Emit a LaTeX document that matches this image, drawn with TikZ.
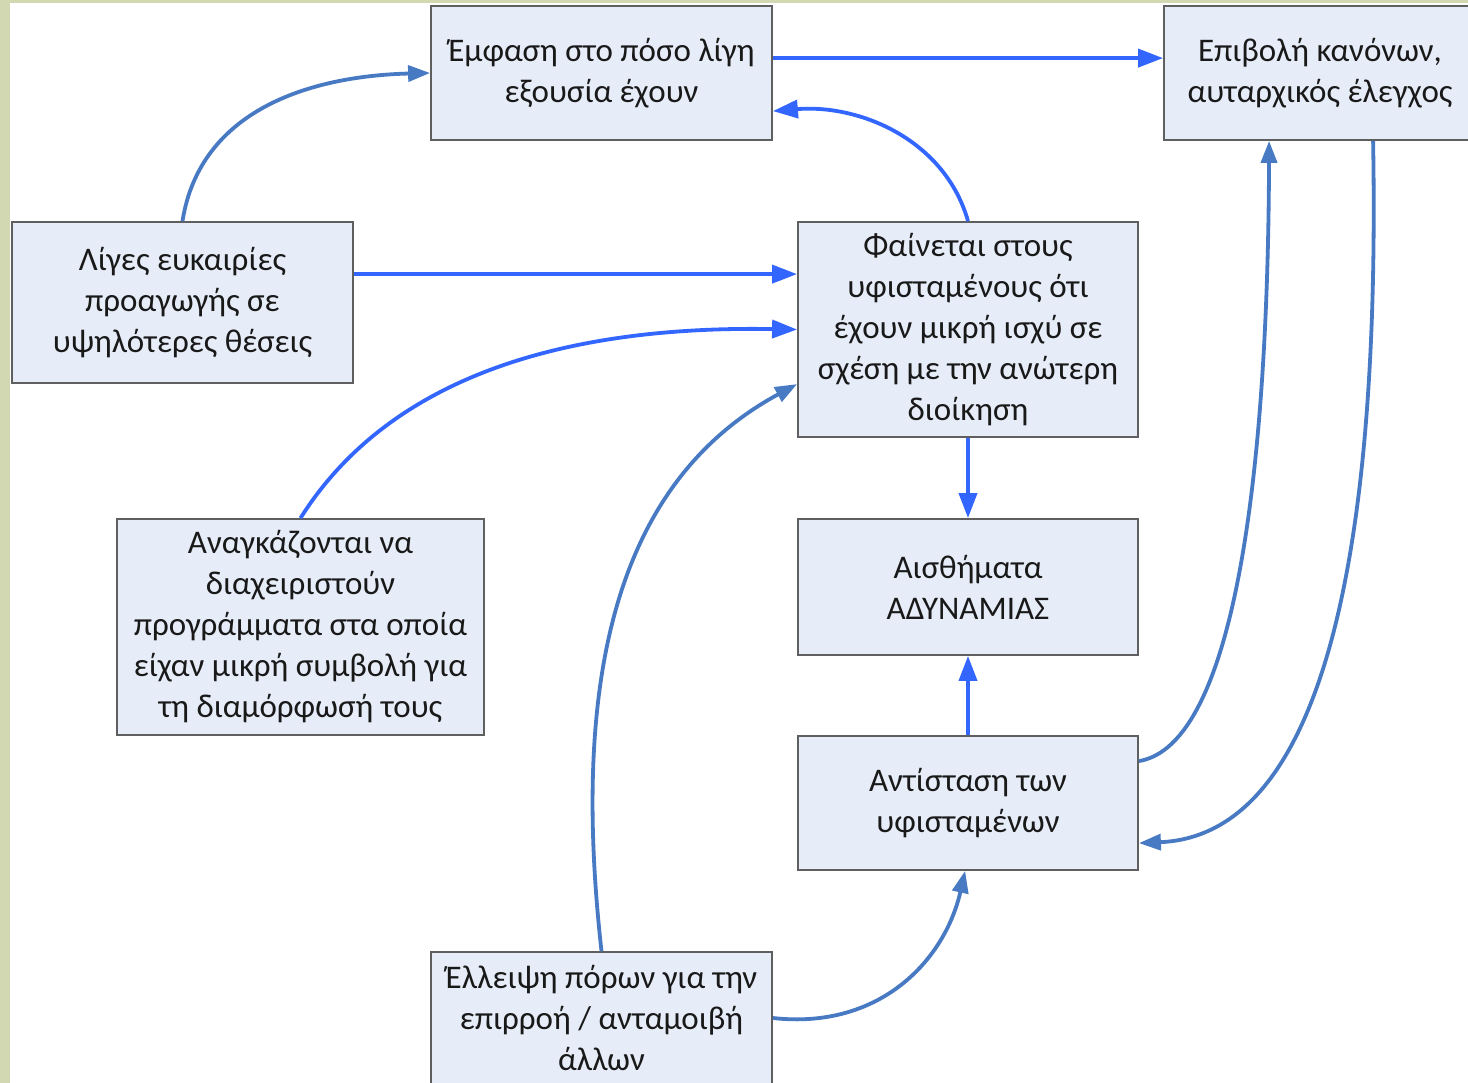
\documentclass[tikz,border=0pt]{standalone}
\usepackage{fontspec}
\setmainfont{Carlito}
\usetikzlibrary{arrows.meta,calc}
\definecolor{boxfill}{RGB}{230,237,248}
\definecolor{boxline}{RGB}{95,95,95}
\definecolor{brightblue}{RGB}{51,102,255}
\definecolor{steelblue}{RGB}{72,122,196}
\definecolor{framecol}{RGB}{210,216,178}
\begin{document}
\begin{tikzpicture}[x=1pt,y=-1pt,
  box/.style={draw=boxline, line width=1.8pt, fill=boxfill, align=center,
    inner sep=0pt, font=\fontsize{33}{41}\selectfont, text={rgb,255:red,25;green,25;blue,25}},
  brightarrow/.style={draw=brightblue, line width=3.8pt,
    -{Triangle[length=25pt,width=18pt]}},
  steelarrow/.style={draw=steelblue, line width=3.8pt,
    -{Triangle[length=22pt,width=16pt]}}]
\useasboundingbox (0,0) rectangle (1468,1083);
\clip (0,0) rectangle (1468,1083);
\fill[white] (0,0) rectangle (1468,1083);
\fill[framecol] (0,0) rectangle (10,1083);
\fill[framecol] (0,0) rectangle (1468,3);

\node[box, minimum width=341pt, minimum height=134pt] (emph) at (601.5,73)
  {Έμφαση στο πόσο λίγη\\εξουσία έχουν};
\node[box, minimum width=312pt, minimum height=134pt] (epiv) at (1320,73)
  {Επιβολή κανόνων,\\αυταρχικός έλεγχος};
\node[box, minimum width=341pt, minimum height=161pt] (liges) at (182.5,302.5)
  {Λίγες ευκαιρίες\\προαγωγής σε\\υψηλότερες θέσεις};
\node[box, minimum width=340pt, minimum height=215pt] (fain) at (968,329.5)
  {Φαίνεται στους\\υφισταμένους ότι\\έχουν μικρή ισχύ σε\\σχέση με την ανώτερη\\διοίκηση};
\node[box, minimum width=367pt, minimum height=216pt] (anag) at (300.5,627)
  {Αναγκάζονται να\\διαχειριστούν\\προγράμματα στα οποία\\είχαν μικρή συμβολή για\\τη διαμόρφωσή τους};
\node[box, minimum width=340pt, minimum height=136pt] (aisth) at (968,587)
  {Αισθήματα\\ΑΔΥΝΑΜΙΑΣ};
\node[box, minimum width=340pt, minimum height=134pt] (antist) at (968,803)
  {Αντίσταση των\\υφισταμένων};
\node[box, minimum width=341pt, minimum height=132pt] (elle) at (601.5,1018)
  {Έλλειψη πόρων για την\\επιρροή / ανταμοιβή\\άλλων};

% straight connectors
\draw[brightarrow] ($(emph.north east)+(0,53)$) -- ($(epiv.north west)+(0,53)$);
\draw[brightarrow] ($(liges.north east)+(0,53)$) -- ($(fain.north west)+(0,53)$);
\draw[brightarrow] (fain.south) -- (aisth.north);
\draw[brightarrow] (antist.north) -- (aisth.south);

% curved connectors
\draw[brightarrow] (fain.north) .. controls (945,140) and (860,104) .. ($(emph.north east)+(0,106)$);
\draw[steelarrow] (liges.north) .. controls (200,110) and (310,76) .. (emph.west);
\draw[brightarrow] (anag.north) .. controls (400,360) and (600,326) .. (fain.west);
\draw[steelarrow] (elle.north) .. controls (570,670) and (620,480) .. ($(fain.north west)+(0,163)$);
\draw[steelarrow] ($(antist.north east)+(0,26)$) .. controls (1235,745) and (1268,470) .. ($(epiv.south west)+(106,0)$);
\draw[steelarrow] ($(epiv.south west)+(210,0)$) .. controls (1380,530) and (1330,835) .. ($(antist.north east)+(0,108)$);
\draw[steelarrow] (elle.east) .. controls (880,1030) and (945,960) .. ($(antist.south west)+(168,0)$);
\end{tikzpicture}
\end{document}
